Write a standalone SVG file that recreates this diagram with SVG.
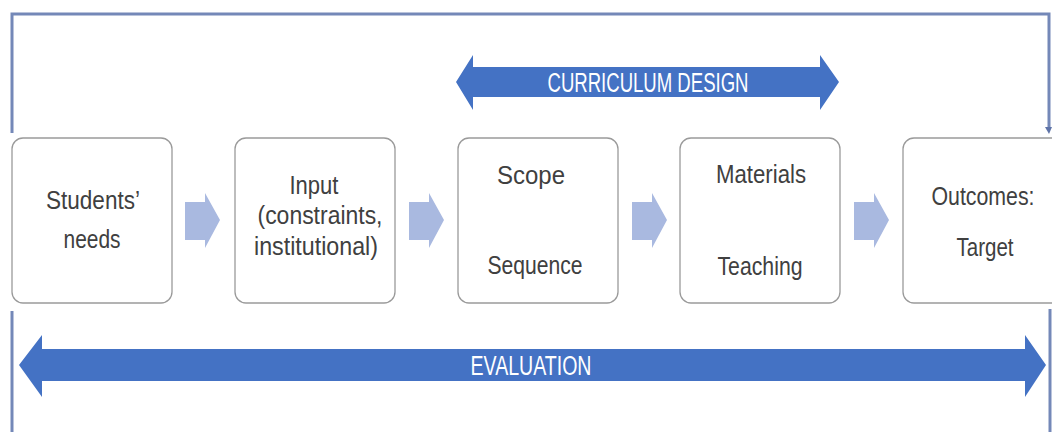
<svg xmlns="http://www.w3.org/2000/svg" width="1052" height="432" viewBox="0 0 1052 432">
<style>
.box{fill:#ffffff;stroke:#9a9a9a;stroke-width:1.3}
.t{font-family:"Liberation Sans",Arial,sans-serif;font-size:25px;fill:#404040;text-anchor:middle}
.bt{font-family:"Liberation Sans",Arial,sans-serif;font-size:27px;fill:#ffffff;text-anchor:middle}
.chev{fill:#a9b9e0}
.big{fill:#4472c4}
.frame{fill:none;stroke:#7488b8;stroke-width:3}
</style>
<rect width="1052" height="432" fill="#ffffff"/>
<g id="connectors">
<path class="frame" d="M12,133 V14 H1049 V128"/>
<polygon points="1045,127 1052,127 1049,134" fill="#5f74a8"/>
<path class="frame" d="M12,311 V432"/>
<path class="frame" d="M1050,309 V432"/>
<polygon class="chev" points="185,202 205,202 205,193 220,220 205,248 205,240 185,240"/>
<polygon class="chev" points="409,202 429,202 429,193 444,220 429,248 429,240 409,240"/>
<polygon class="chev" points="632,202 652,202 652,193 667,220 652,248 652,240 632,240"/>
<polygon class="chev" points="854,202 874,202 874,193 889,220 874,248 874,240 854,240"/>
</g>
<g id="curriculum-design">
<polygon class="big" points="456,82 473,55 473,67 820,67 820,55 839,82 820,110 820,97 473,97 473,110"/>
<text class="bt" x="648" y="92" textLength="201" lengthAdjust="spacingAndGlyphs">CURRICULUM DESIGN</text>
</g>
<g id="evaluation">
<polygon class="big" points="19,365 42,335 42,349 1025,349 1025,335 1046,365 1025,397 1025,381 42,381 42,397"/>
<text class="bt" x="531" y="375" textLength="121" lengthAdjust="spacingAndGlyphs">EVALUATION</text>
</g>
<g id="students-needs">
<rect class="box" x="12" y="138" width="160" height="165" rx="11"/>
<text class="t" x="93" y="209" textLength="94" lengthAdjust="spacingAndGlyphs">Students’</text>
<text class="t" x="92" y="248" textLength="57" lengthAdjust="spacingAndGlyphs">needs</text>
</g>
<g id="input">
<rect class="box" x="235" y="138" width="160" height="165" rx="11"/>
<text class="t" x="314" y="194" textLength="49" lengthAdjust="spacingAndGlyphs">Input</text>
<text class="t" x="320" y="224" textLength="125" lengthAdjust="spacingAndGlyphs">(constraints,</text>
<text class="t" x="316" y="255" textLength="124" lengthAdjust="spacingAndGlyphs">institutional)</text>
</g>
<g id="scope-sequence">
<rect class="box" x="458" y="138" width="160" height="165" rx="11"/>
<text class="t" x="531" y="184" textLength="68" lengthAdjust="spacingAndGlyphs">Scope</text>
<text class="t" x="535" y="274" textLength="95" lengthAdjust="spacingAndGlyphs">Sequence</text>
</g>
<g id="materials-teaching">
<rect class="box" x="680" y="138" width="160" height="165" rx="11"/>
<text class="t" x="761" y="183" textLength="90" lengthAdjust="spacingAndGlyphs">Materials</text>
<text class="t" x="760" y="275" textLength="85" lengthAdjust="spacingAndGlyphs">Teaching</text>
</g>
<g id="outcomes-target">
<rect class="box" x="903" y="138" width="170" height="165" rx="11"/>
<text class="t" x="983" y="205" textLength="103" lengthAdjust="spacingAndGlyphs">Outcomes:</text>
<text class="t" x="985" y="256" textLength="57" lengthAdjust="spacingAndGlyphs">Target</text>
</g>
</svg>
